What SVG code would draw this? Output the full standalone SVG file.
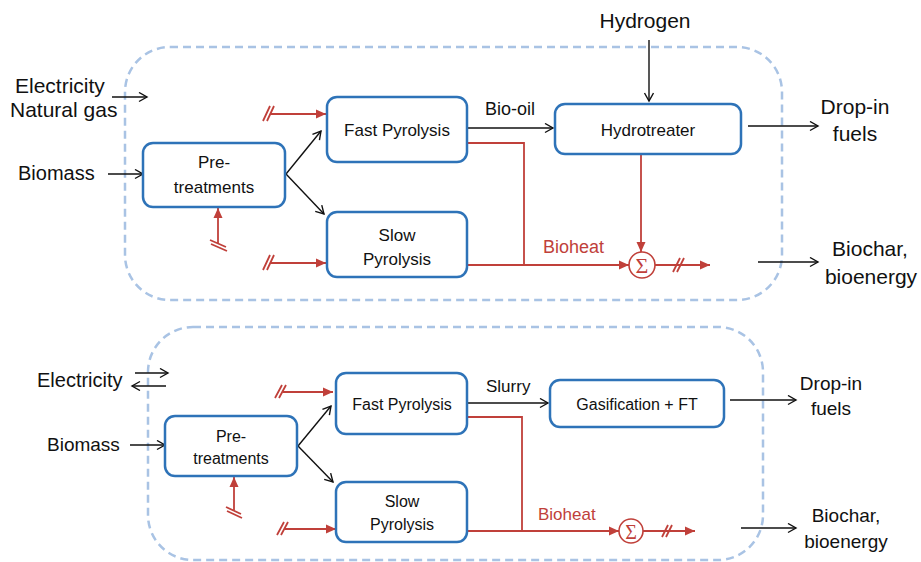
<svg xmlns="http://www.w3.org/2000/svg" width="921" height="562" viewBox="0 0 921 562">
<style>
text{font-family:"Liberation Sans",Arial,sans-serif;fill:#111}
.node rect{fill:#fff;stroke:#2e73b8;stroke-width:2.5}
.bound{fill:none;stroke:#a9c3e4;stroke-width:2.5;stroke-dasharray:8 5}
.blk{fill:none;stroke:#111;stroke-width:1.4}
.red{fill:none;stroke:#c0403a;stroke-width:1.8}
.n17{font-size:17px}
.n16{font-size:16px}
.sig{fill:#c0403a;font-family:"Liberation Serif","DejaVu Serif",serif}
</style>
<defs>
<marker id="ab" markerUnits="userSpaceOnUse" markerWidth="12" markerHeight="12" refX="9" refY="5" orient="auto">
<path d="M1,0.5 L9,5 L1,9.5" fill="none" stroke="#111" stroke-width="1.4"/>
</marker>
<marker id="ar" markerUnits="userSpaceOnUse" markerWidth="12" markerHeight="12" refX="10" refY="5" orient="auto">
<path d="M0,0.5 L10,5 L0,9.5 z" fill="#c0403a"/>
</marker>
</defs>

<rect class="bound" x="125" y="47" width="657" height="253" rx="45"/>
<rect class="bound" x="148" y="327" width="615" height="233" rx="45"/>

<g id="connectors">
<line class="blk" x1="112" y1="97" x2="147" y2="97" marker-end="url(#ab)"/>
<line class="blk" x1="108" y1="174" x2="143" y2="174" marker-end="url(#ab)"/>
<line class="blk" x1="286" y1="174" x2="321" y2="131" marker-end="url(#ab)"/>
<line class="blk" x1="286" y1="174" x2="324" y2="214" marker-end="url(#ab)"/>
<line class="blk" x1="467" y1="128" x2="553" y2="128" marker-end="url(#ab)"/>
<line class="blk" x1="649" y1="40" x2="649" y2="101" marker-end="url(#ab)"/>
<line class="blk" x1="748" y1="126" x2="818" y2="126" marker-end="url(#ab)"/>
<line class="blk" x1="758" y1="262" x2="818" y2="262" marker-end="url(#ab)"/>

<line class="red" x1="270" y1="114" x2="326" y2="114" marker-end="url(#ar)"/>
<path class="red" d="M263,121 L270,106 M267,121 L274,106" stroke-width="1.4"/>
<line class="red" x1="270" y1="263" x2="326" y2="263" marker-end="url(#ar)"/>
<path class="red" d="M263,270 L270,255 M267,270 L274,255" stroke-width="1.4"/>
<line class="red" x1="218" y1="243" x2="218" y2="208" marker-end="url(#ar)"/>
<path class="red" d="M210,240 L226,247 M211,244 L227,251" stroke-width="1.4"/>
<polyline class="red" points="467,143 524,143 524,265" stroke-width="1.5"/>
<line class="red" x1="467" y1="265" x2="629" y2="265" marker-end="url(#ar)"/>
<line class="red" x1="641" y1="155" x2="641" y2="252" marker-end="url(#ar)"/>
<line class="red" x1="655" y1="265" x2="710" y2="265" marker-end="url(#ar)"/>
<path class="red" d="M673,272 L680,258 M677,272 L684,258" stroke-width="1.4"/>

<line class="blk" x1="135" y1="373" x2="168" y2="373" marker-end="url(#ab)"/>
<line class="blk" x1="166" y1="386" x2="132" y2="386" marker-end="url(#ab)"/>
<line class="blk" x1="130" y1="445" x2="165" y2="445" marker-end="url(#ab)"/>
<line class="blk" x1="298" y1="446" x2="331" y2="406" marker-end="url(#ab)"/>
<line class="blk" x1="298" y1="446" x2="333" y2="482" marker-end="url(#ab)"/>
<line class="blk" x1="467" y1="403" x2="548" y2="403" marker-end="url(#ab)"/>
<line class="blk" x1="730" y1="400" x2="796" y2="400" marker-end="url(#ab)"/>
<line class="blk" x1="741" y1="528" x2="796" y2="528" marker-end="url(#ab)"/>

<line class="red" x1="283" y1="392" x2="333" y2="392" marker-end="url(#ar)"/>
<path class="red" d="M275,398 L282,385 M279,398 L286,385" stroke-width="1.4"/>
<line class="red" x1="285" y1="529" x2="336" y2="529" marker-end="url(#ar)"/>
<path class="red" d="M277,535 L284,522 M281,535 L288,522" stroke-width="1.4"/>
<line class="red" x1="234" y1="510" x2="234" y2="477" marker-end="url(#ar)"/>
<path class="red" d="M226,507 L241,514 M227,511 L242,518" stroke-width="1.4"/>
<polyline class="red" points="467,417 522,417 522,531" stroke-width="1.5"/>
<line class="red" x1="467" y1="531" x2="619" y2="531" marker-end="url(#ar)"/>
<line class="red" x1="643" y1="531" x2="695" y2="531" marker-end="url(#ar)"/>
<path class="red" d="M662,537 L668,525 M666,537 L672,525" stroke-width="1.4"/>
</g>

<g id="pre1" class="node"><rect x="143" y="143" width="142" height="64" rx="10"/>
<text class="n17" x="214" y="168" text-anchor="middle">Pre-</text>
<text class="n17" x="214" y="193" text-anchor="middle">treatments</text></g>
<g id="fast1" class="node"><rect x="327" y="97" width="140" height="65" rx="10"/>
<text class="n17" x="397" y="136" text-anchor="middle">Fast Pyrolysis</text></g>
<g id="slow1" class="node"><rect x="327" y="212" width="140" height="65" rx="10"/>
<text class="n17" x="397" y="241" text-anchor="middle">Slow</text>
<text class="n17" x="397" y="265" text-anchor="middle">Pyrolysis</text></g>
<g id="hydro" class="node"><rect x="555" y="104" width="186" height="50" rx="10"/>
<text class="n17" x="648" y="136" text-anchor="middle">Hydrotreater</text></g>
<g id="sum1"><circle cx="642" cy="265" r="13" fill="#fff" stroke="#c0403a" stroke-width="1.6"/>
<text class="sig" x="642" y="273" text-anchor="middle" style="font-size:22px">Σ</text></g>

<g id="labels1">
<text x="15" y="93" style="font-size:21px">Electricity</text>
<text x="10" y="117" style="font-size:21px">Natural gas</text>
<text x="18" y="180" style="font-size:20px">Biomass</text>
<text x="645" y="28" text-anchor="middle" style="font-size:21px">Hydrogen</text>
<text x="485" y="115" style="font-size:18px">Bio-oil</text>
<text x="855" y="114" text-anchor="middle" style="font-size:21px">Drop-in</text>
<text x="855" y="141" text-anchor="middle" style="font-size:21px">fuels</text>
<text x="870" y="256" text-anchor="middle" style="font-size:21px">Biochar,</text>
<text x="871" y="284" text-anchor="middle" style="font-size:21px">bioenergy</text>
<text x="543" y="253" style="font-size:18px;fill:#c0403a">Bioheat</text>
</g>

<g id="pre2" class="node"><rect x="165" y="416" width="132" height="60" rx="10"/>
<text class="n16" x="231" y="442" text-anchor="middle">Pre-</text>
<text class="n16" x="231" y="464" text-anchor="middle">treatments</text></g>
<g id="fast2" class="node"><rect x="336" y="373" width="131" height="61" rx="10"/>
<text class="n16" x="402" y="410" text-anchor="middle">Fast Pyrolysis</text></g>
<g id="slow2" class="node"><rect x="336" y="482" width="131" height="60" rx="10"/>
<text class="n16" x="402" y="507" text-anchor="middle">Slow</text>
<text class="n16" x="402" y="530" text-anchor="middle">Pyrolysis</text></g>
<g id="gasft" class="node"><rect x="550" y="380" width="174" height="47" rx="10"/>
<text class="n16" x="637" y="410" text-anchor="middle">Gasification + FT</text></g>
<g id="sum2"><circle cx="631" cy="531" r="12" fill="#fff" stroke="#c0403a" stroke-width="1.6"/>
<text class="sig" x="631" y="538.5" text-anchor="middle" style="font-size:20px">Σ</text></g>

<g id="labels2">
<text x="37" y="387" style="font-size:20px">Electricity</text>
<text x="47" y="451" style="font-size:19px">Biomass</text>
<text x="486" y="392" style="font-size:17px">Slurry</text>
<text x="831" y="390" text-anchor="middle" style="font-size:19px">Drop-in</text>
<text x="831" y="415" text-anchor="middle" style="font-size:19px">fuels</text>
<text x="846" y="522" text-anchor="middle" style="font-size:19px">Biochar,</text>
<text x="846" y="548" text-anchor="middle" style="font-size:19px">bioenergy</text>
<text x="538" y="520" style="font-size:17px;fill:#c0403a">Bioheat</text>
</g>
</svg>
